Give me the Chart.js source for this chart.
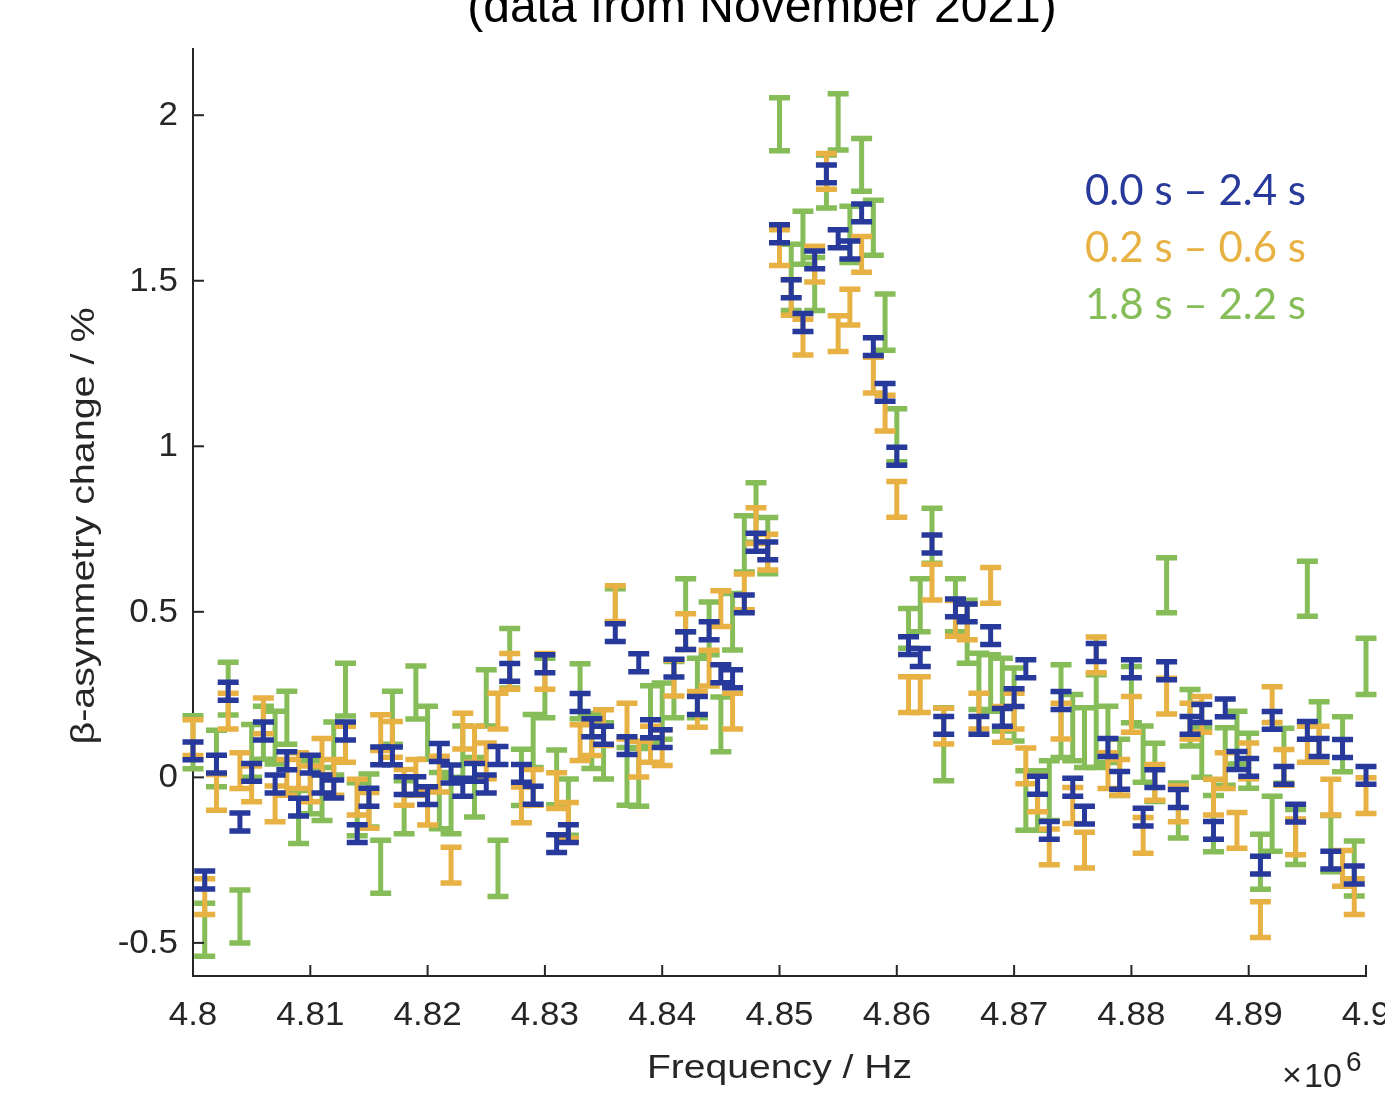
<!DOCTYPE html>
<html>
<head>
<meta charset="utf-8">
<script src="https://cdn.jsdelivr.net/npm/chart.js@4.4.0/dist/chart.umd.min.js"></script>
<style>
  html, body { margin: 0; padding: 0; background: #fff; }
  #wrap { width: 1385px; height: 1094px; position: relative; }
</style>
</head>
<body>
<div id="wrap"><canvas id="asymChart"></canvas></div>
<script>
// frequency in MHz (axis is labelled x10^6 Hz)
const freqs = [
  4.800, 4.801, 4.802, 4.803, 4.804, 4.805, 4.806, 4.807, 4.808, 4.809,
  4.810, 4.811, 4.812, 4.813, 4.814, 4.815, 4.816, 4.817, 4.818, 4.819,
  4.820, 4.821, 4.822, 4.823, 4.824, 4.825, 4.826, 4.827, 4.828, 4.829,
  4.830, 4.831, 4.832, 4.833, 4.834, 4.835, 4.836, 4.837, 4.838, 4.839,
  4.840, 4.841, 4.842, 4.843, 4.844, 4.845, 4.846, 4.847, 4.848, 4.849,
  4.850, 4.851, 4.852, 4.853, 4.854, 4.855, 4.856, 4.857, 4.858, 4.859,
  4.860, 4.861, 4.862, 4.863, 4.864, 4.865, 4.866, 4.867, 4.868, 4.869,
  4.870, 4.871, 4.872, 4.873, 4.874, 4.875, 4.876, 4.877, 4.878, 4.879,
  4.880, 4.881, 4.882, 4.883, 4.884, 4.885, 4.886, 4.887, 4.888, 4.889,
  4.890, 4.891, 4.892, 4.893, 4.894, 4.895, 4.896, 4.897, 4.898, 4.899,
  4.900
];

// 0.0 s - 2.4 s
const fullVals = [
  0.08, -0.31, 0.04, 0.26, -0.135, 0.015, 0.14, -0.02, 0.05, -0.09,
  0.04, -0.02, -0.035, 0.14, -0.17, -0.06, 0.065, 0.065, -0.025, -0.025,
  -0.055, 0.075, 0.01, -0.03, 0.015, -0.02, 0.066, 0.317, 0.012, -0.054,
  0.343, -0.2, -0.17, 0.226, 0.15, 0.127, 0.437, 0.096, 0.346, 0.147,
  0.117, 0.33, 0.413, 0.217, 0.443, 0.313, 0.298, 0.524, 0.71, 0.684,
  1.642, 1.476, 1.374, 1.563, 1.823, 1.627, 1.593, 1.705, 1.301, 1.163,
  0.97, 0.398, 0.362, 0.705, 0.157, 0.512, 0.497, 0.157, 0.428, 0.181,
  0.241, 0.328, -0.024, -0.16, 0.232, -0.03, -0.114, 0.377, 0.09, -0.009,
  0.328, -0.12, -0.004, 0.322, -0.064, 0.157, 0.193, -0.16, 0.21, 0.051,
  0.03, -0.265, 0.172, 0.006, -0.108, 0.142, 0.09, -0.25, 0.087, -0.295,
  0.006
];
const fullErr = 0.027;

// 0.2 s - 0.6 s
const earlyVals = [
  0.12, -0.36, -0.045, 0.2, 0.02, -0.02, 0.186, -0.08, 0.0, 0.02,
  -0.02, 0.063, 0.0, 0.1, -0.06, -0.1, 0.135, 0.115, -0.03, 0.0,
  -0.09, 0.01, -0.265, 0.14, 0.1, 0.05, 0.2, 0.32, -0.083, -0.03,
  0.32, -0.04, -0.13, 0.105, 0.12, 0.15, 0.525, 0.17, 0.055, 0.1,
  0.09, 0.3, 0.44, 0.205, 0.33, 0.51, 0.2, 0.56, 0.76, 0.68,
  1.6, 1.45, 1.33, 1.55, 1.83, 1.34, 1.42, 1.58, 1.215, 1.1,
  0.84, 0.25, 0.25, 0.59, 0.155, 0.48, 0.47, 0.2, 0.58, 0.16,
  0.2, 0.035, -0.05, -0.21, 0.17, -0.085, -0.22, 0.37, 0.02, 0.0,
  0.19, -0.175, -0.015, 0.245, -0.08, 0.17, 0.19, -0.06, 0.02, -0.16,
  0.05, -0.43, 0.22, 0.03, -0.18, 0.1, 0.1, -0.06, -0.275, -0.36,
  -0.055
];
const earlyErr = 0.054;

// 1.8 s - 2.2 s
const lateVals = [
  0.106, -0.46, 0.057, 0.268, -0.42, 0.08, 0.135, 0.12, 0.18, -0.12,
  -0.03, -0.05, 0.087, 0.265, -0.096, -0.07, -0.27, 0.18, -0.09, 0.256,
  0.135, -0.07, -0.085, 0.075, -0.03, 0.24, -0.275, 0.36, 0.0, 0.11,
  0.27, 0.0, -0.09, 0.26, 0.11, 0.08, 0.52, 0.003, 0.0, 0.19,
  0.2, 0.265, 0.52, 0.27, 0.45, 0.16, 0.47, 0.705, 0.8, 0.7,
  1.973, 1.51, 1.63, 1.49, 1.8, 1.98, 1.64, 1.85, 1.66, 1.375,
  1.033, 0.45, 0.52, 0.73, 0.1, 0.52, 0.44, 0.29, 0.285, 0.25,
  0.22, -0.07, -0.07, -0.04, 0.2, 0.15, 0.12, 0.17, 0.13, 0.03,
  0.25, 0.07, 0.015, 0.58, -0.1, 0.18, 0.075, -0.14, 0.063, 0.12,
  0.05, -0.255, -0.14, 0.065, -0.18, 0.57, 0.145, -0.2, 0.1, -0.275,
  0.335
];
const lateErr = [
  0.08, 0.08, 0.085, 0.08, 0.08, 0.08, 0.08, 0.08, 0.08, 0.08,
  0.08, 0.08, 0.08, 0.08, 0.08, 0.08, 0.08, 0.08, 0.08, 0.08,
  0.08, 0.085, 0.085, 0.08, 0.09, 0.085, 0.085, 0.09, 0.085, 0.08,
  0.09, 0.083, 0.085, 0.083, 0.083, 0.085, 0.05, 0.087, 0.087, 0.087,
  0.085, 0.085, 0.08, 0.09, 0.08, 0.083, 0.085, 0.085, 0.09, 0.085,
  0.08, 0.1, 0.08, 0.08, 0.08, 0.085, 0.085, 0.08, 0.083, 0.085,
  0.08, 0.06, 0.08, 0.083, 0.11, 0.08, 0.095, 0.085, 0.085, 0.11,
  0.11, 0.09, 0.09, 0.09, 0.14, 0.1, 0.09, 0.14, 0.085, 0.085,
  0.085, 0.085, 0.088, 0.083, 0.083, 0.085, 0.075, 0.085, 0.087, 0.08,
  0.083, 0.083, 0.083, 0.083, 0.083, 0.083, 0.083, 0.085, 0.083, 0.083,
  0.085
];

const seriesLabels = ['0.0 s \u2013 2.4 s', '0.2 s \u2013 0.6 s', '1.8 s \u2013 2.2 s'];
const seriesColors = ['#27399a', '#e8b143', '#86bd58'];

const xTicks = [4.8, 4.81, 4.82, 4.83, 4.84, 4.85, 4.86, 4.87, 4.88, 4.89, 4.9];
const xTickLabels = ['4.8', '4.81', '4.82', '4.83', '4.84', '4.85', '4.86', '4.87', '4.88', '4.89', '4.9'];
const yTicks = [-0.5, 0, 0.5, 1, 1.5, 2];
const yTickLabels = ['-0.5', '0', '0.5', '1', '1.5', '2'];

const axisColor = '#262626';
const axisFont = '"Liberation Sans", Arial, sans-serif';

function points(vals, err) {
    return vals.map((v, i) => ({
        x: freqs[i],
        y: v,
        err: Array.isArray(err) ? err[i] : err
    }));
}

// I-beam error bars, drawn per dataset so the stacking follows chart.js order
const errorBars = {
    id: 'errorBars',
    afterDatasetDraw(chart, args) {
        const ds = chart.data.datasets[args.index];
        const xs = chart.scales.x, ys = chart.scales.y;
        const ctx = chart.ctx;
        const half = 10.5;
        ctx.save();
        ctx.strokeStyle = ds.borderColor;
        ctx.lineCap = 'butt';
        ds.data.forEach(p => {
            const px = xs.getPixelForValue(p.x);
            const top = ys.getPixelForValue(p.y + p.err);
            const bot = ys.getPixelForValue(p.y - p.err);
            ctx.lineWidth = 5;
            ctx.beginPath();
            ctx.moveTo(px, top);
            ctx.lineTo(px, bot);
            ctx.stroke();
            ctx.lineWidth = 5.5;
            ctx.beginPath();
            ctx.moveTo(px - half, top);
            ctx.lineTo(px + half, top);
            ctx.moveTo(px - half, bot);
            ctx.lineTo(px + half, bot);
            ctx.stroke();
        });
        ctx.restore();
    }
};

// text stretched a little wider, like the source figure
function wideText(ctx, text, x, y, stretch) {
    ctx.save();
    ctx.translate(x, y);
    ctx.scale(stretch, 1);
    ctx.fillText(text, 0, 0);
    ctx.restore();
}

// inward ticks, tick labels, axis titles, legend text and the clipped title
const decorations = {
    id: 'decorations',
    afterDraw(chart) {
        const {ctx, chartArea: a, scales: {x, y}} = chart;
        ctx.save();
        ctx.strokeStyle = axisColor;
        ctx.fillStyle = axisColor;
        ctx.lineWidth = 2;

        ctx.font = '33px ' + axisFont;
        ctx.textAlign = 'center';
        ctx.textBaseline = 'middle';
        xTicks.forEach((v, k) => {
            const px = x.getPixelForValue(v);
            ctx.beginPath();
            ctx.moveTo(px, a.bottom);
            ctx.lineTo(px, a.bottom - 11);
            ctx.stroke();
            wideText(ctx, xTickLabels[k], px, a.bottom + 40, 1.06);
        });

        ctx.textAlign = 'right';
        yTicks.forEach((v, k) => {
            const py = y.getPixelForValue(v);
            ctx.beginPath();
            ctx.moveTo(a.left, py);
            ctx.lineTo(a.left + 11, py);
            ctx.stroke();
            wideText(ctx, yTickLabels[k], a.left - 15, py + 1, 1.06);
        });

        // axis titles
        ctx.font = '34px ' + axisFont;
        ctx.textAlign = 'center';
        ctx.textBaseline = 'alphabetic';
        wideText(ctx, 'Frequency / Hz', (a.left + a.right) / 2, 1078, 1.15);
        ctx.save();
        ctx.translate(94, 526);
        ctx.rotate(-Math.PI / 2);
        wideText(ctx, '\u03b2-asymmetry change / %', 0, 0, 1.16);
        ctx.restore();

        // x10^6 exponent
        ctx.textAlign = 'left';
        ctx.font = '34px ' + axisFont;
        ctx.fillText('\u00d7', 1282, 1086);
        ctx.fillText('10', 1304, 1087);
        ctx.font = '28px ' + axisFont;
        ctx.fillText('6', 1346, 1071);

        // title, top line falls outside the picture
        ctx.font = '48px ' + axisFont;
        ctx.textAlign = 'center';
        ctx.fillStyle = '#000';
        ctx.fillText('(data from November 2021)', 762, 22);

        // coloured legend text
        ctx.font = '42px Lato, "Open Sans", sans-serif';
        ctx.textAlign = 'left';
        const baselines = [205, 262, 319];
        seriesLabels.forEach((t, k) => {
            ctx.fillStyle = seriesColors[k];
            ctx.fillText(t, 1085, baselines[k]);
        });
        ctx.restore();
    }
};

const ctx = document.getElementById('asymChart').getContext('2d');
new Chart(ctx, {
    type: 'scatter',
    data: {
        datasets: [
            { label: seriesLabels[0], data: points(fullVals, fullErr), borderColor: seriesColors[0], backgroundColor: seriesColors[0], pointRadius: 0 },
            { label: seriesLabels[1], data: points(earlyVals, earlyErr), borderColor: seriesColors[1], backgroundColor: seriesColors[1], pointRadius: 0 },
            { label: seriesLabels[2], data: points(lateVals, lateErr), borderColor: seriesColors[2], backgroundColor: seriesColors[2], pointRadius: 0 }
        ]
    },
    options: {
        responsive: true,
        maintainAspectRatio: false,
        animation: false,
        layout: { padding: { left: 193, right: 19, top: 49, bottom: 118 } },
        plugins: {
            legend: { display: false },
            tooltip: { enabled: false },
            title: { display: false }
        },
        scales: {
            x: {
                type: 'linear',
                min: 4.8,
                max: 4.9,
                grid: { display: false, drawTicks: false },
                ticks: { display: false },
                border: { display: true, color: axisColor, width: 2 }
            },
            y: {
                min: -0.6,
                max: 2.2,
                grid: { display: false, drawTicks: false },
                ticks: { display: false },
                border: { display: true, color: axisColor, width: 2 }
            }
        }
    },
    plugins: [errorBars, decorations]
});
</script>
</body>
</html>
